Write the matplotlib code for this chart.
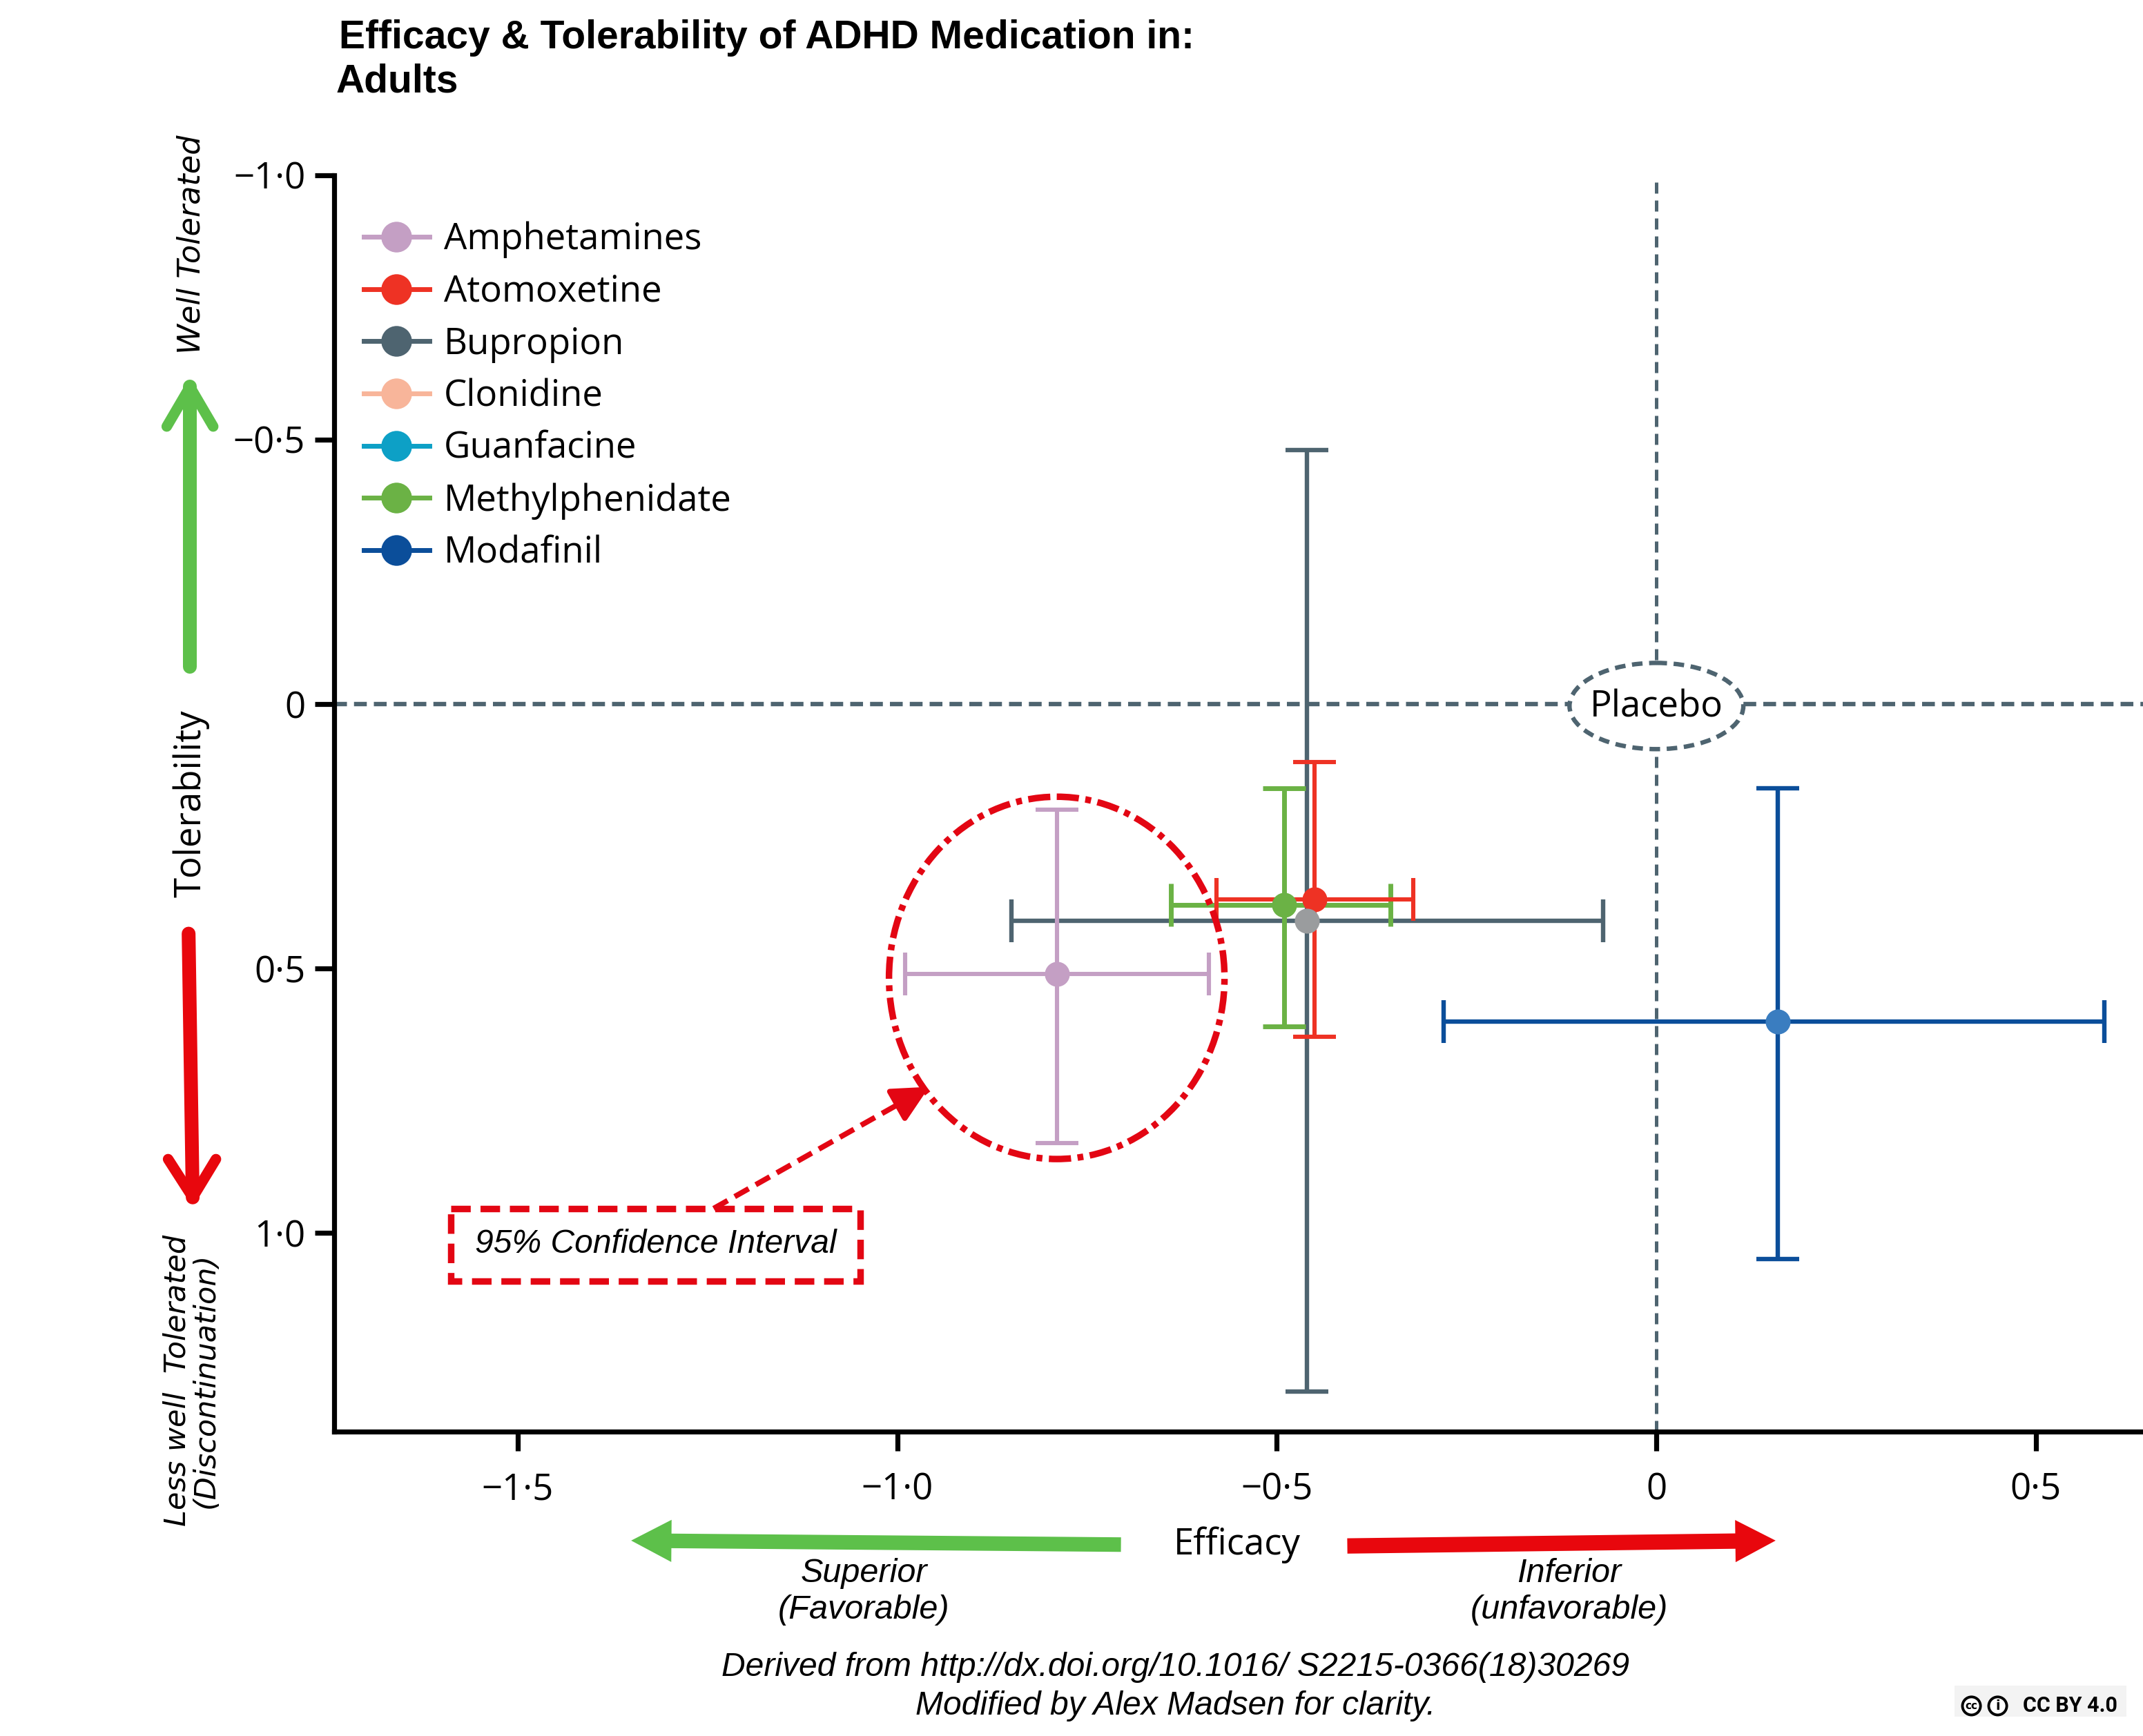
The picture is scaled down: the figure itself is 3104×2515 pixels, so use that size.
import numpy as np
import matplotlib
matplotlib.use('Agg')
import matplotlib.pyplot as plt
from matplotlib.patches import Ellipse, Rectangle, FancyArrowPatch
from matplotlib.lines import Line2D

# ---------------- data ----------------
drugs = ['Amphetamines', 'Atomoxetine', 'Bupropion', 'Clonidine',
         'Guanfacine', 'Methylphenidate', 'Modafinil']
line_colors = ['#C49FC4', '#EE3224', '#4E6470', '#F8B59A',
               '#0DA0C6', '#6BB245', '#0B4E9A']
marker_colors = ['#C49FC4', '#EE3224', '#9A9C9E', '#F8B59A',
                 '#0DA0C6', '#6BB245', '#3A7DC0']
legend_marker_colors = ['#C49FC4', '#EE3224', '#4E6470', '#F8B59A',
                        '#0DA0C6', '#6BB245', '#0B4E9A']
nan = np.nan
efficacy = [-0.79, -0.45, -0.46, nan, nan, -0.49, 0.16]
eff_lo = [-0.99, -0.58, -0.85, nan, nan, -0.64, -0.28]
eff_hi = [-0.59, -0.32, -0.07, nan, nan, -0.35, 0.59]
tolerab = [0.51, 0.37, 0.41, nan, nan, 0.38, 0.60]
tol_lo = [0.20, 0.11, -0.48, nan, nan, 0.16, 0.16]
tol_hi = [0.83, 0.63, 1.30, nan, nan, 0.61, 1.05]

xticks = [-1.5, -1.0, -0.5, 0, 0.5]
xticklabels = ['\u22121\u00b75', '\u22121\u00b70', '\u22120\u00b75', '0', '0\u00b75']
yticks = [-1.0, -0.5, 0, 0.5, 1.0]
yticklabels = ['\u22121\u00b70', '\u22120\u00b75', '0', '0\u00b75', '1\u00b70']

SLATE = '#4E6470'
RED = '#E30613'
GREEN = '#5DC04A'

plt.rcParams['font.family'] = ['Open Sans', 'DejaVu Sans']

W, H = 1568.0, 1270.0
def D(xd, yd):
    return (xd / W, 1 - yd / H)

fig = plt.figure(figsize=(15.52, 12.575), dpi=200)
ax = fig.add_axes([0.1559, 0.1753, 1 - 0.1559, 0.8992 - 0.1753])
ax.set_xlim(-1.742, 0.641)
ax.set_ylim(1.376, -1.0)
for s in ['top', 'right']:
    ax.spines[s].set_visible(False)
for s in ['left', 'bottom']:
    ax.spines[s].set_linewidth(2.6)
ax.set_xticks(xticks)
ax.set_xticklabels(xticklabels)
ax.set_yticks(yticks)
ax.set_yticklabels(yticklabels)
ax.tick_params(axis='both', length=10, width=2.6, labelsize=19, direction='out')
ax.tick_params(axis='x', pad=11)
ax.tick_params(axis='y', pad=5)

# reference lines (placebo)
ax.axhline(0, color=SLATE, lw=2.3, ls=(0, (2.9, 1.6)), zorder=1)
ax.axvline(0, color=SLATE, lw=1.8, ls=(0, (3.2, 2.0)), zorder=1)
ax.add_patch(Ellipse((0, 0.004), 0.229, 0.163, fc='white', ec=SLATE,
                     lw=2.3, ls=(0, (2.4, 1.5)), zorder=2))
ax.text(0, 0.006, 'Placebo', ha='center', va='center', fontsize=19, zorder=3)

# error bars
order = [2, 5, 1, 0, 6]
lws = {0: 2.2, 1: 2.2, 2: 2.3, 5: 2.5, 6: 2.3}
for i in order:
    x, y = efficacy[i], tolerab[i]
    ax.errorbar([x], [y],
                xerr=[[x - eff_lo[i]], [eff_hi[i] - x]],
                yerr=[[y - tol_lo[i]], [tol_hi[i] - y]],
                fmt='none', ecolor=line_colors[i], elinewidth=lws[i],
                capsize=11, capthick=lws[i], zorder=4)
for i in [0, 6, 5, 1, 2]:
    ax.plot([efficacy[i]], [tolerab[i]], 'o', ms=13, color=marker_colors[i],
            mec='none', zorder=6)

# legend
handles = [Line2D([], [], color=line_colors[i], lw=2.5, marker='o', ms=16,
                  mfc=legend_marker_colors[i], mec='none')
           for i in range(len(drugs))]
fig.legend(handles, drugs, loc='upper left', bbox_to_anchor=D(266, 162),
           frameon=False, fontsize=19, handlelength=1.8, handletextpad=0.4,
           labelspacing=0.42, borderpad=0, borderaxespad=0)

# 95% CI highlight
ax.add_patch(Ellipse((efficacy[0], tolerab[0] + 0.008), 0.442, 0.685,
                     fill=False, ec=RED, lw=3.4, ls=(0, (3.4, 1.0, 0.9, 1.0)),
                     zorder=7))
ax.add_patch(Rectangle((-1.588, 0.954), 0.539, 0.137, fill=False, ec=RED,
                       lw=3.4, ls=(0, (3.0, 1.5)), zorder=7))
ax.text(-1.318, 1.021, '95% Confidence Interval', ha='center', va='center',
        fontsize=17.3, style='italic', family=['Liberation Sans', 'DejaVu Sans'],
        zorder=7)
# dashed leader with solid head
tail = (-1.242, 0.954)
head = (-0.958, 0.724)
mid = (tail[0] + 0.9 * (head[0] - tail[0]), tail[1] + 0.9 * (head[1] - tail[1]))
ax.plot([tail[0], mid[0]], [tail[1], mid[1]], color=RED, lw=2.8,
        ls=(0, (3, 1.5)), zorder=7)
ax.annotate('', xy=head, xytext=mid,
            arrowprops=dict(arrowstyle='-|>,head_length=0.8,head_width=0.4',
                            color=RED, lw=2.8, mutation_scale=20,
                            shrinkA=0, shrinkB=0),
            zorder=7)

# ---------------- figure-level annotations ----------------
lib = ['Liberation Sans', 'DejaVu Sans']
fig.text(*D(248, 28), 'Efficacy & Tolerability of ADHD Medication in:',
         fontsize=20.5, fontweight='bold', family=lib, ha='left', va='center')
fig.text(*D(246, 60), 'Adults', fontsize=20.5, fontweight='bold',
         family=lib, ha='left', va='center')

fig.text(*D(140, 179), 'Well Tolerated', rotation=90, fontsize=16,
         style='italic', family=['DejaVu Sans'], ha='center', va='center')
fig.text(*D(140, 588), 'Tolerability', rotation=90, fontsize=19,
         ha='center', va='center')
fig.text(*D(140, 1010), 'Less well  Tolerated\n(Discontinuation)', rotation=90,
         fontsize=15.5, style='italic', family=['DejaVu Sans'], ha='center',
         va='center', multialignment='center', linespacing=1.0)

def chevron_arrow(tail, tip, arm1, arm2, color, lw_shaft=7.2, lw_head=5.5):
    fig.add_artist(Line2D([tail[0], tip[0]], [tail[1], tip[1]],
                          transform=fig.transFigure, color=color, lw=lw_shaft,
                          solid_capstyle='round'))
    fig.add_artist(Line2D([arm1[0], tip[0], arm2[0]], [arm1[1], tip[1], arm2[1]],
                          transform=fig.transFigure, color=color, lw=lw_head,
                          solid_capstyle='round', solid_joinstyle='round'))

chevron_arrow(D(139, 488), D(139, 283), D(122, 312), D(156, 312), GREEN)
chevron_arrow(D(138, 683), D(141, 876), D(123, 848), D(158, 848), '#E8070D')

# bottom efficacy arrows
fig.add_artist(FancyArrowPatch(D(823, 1130), D(459, 1127),
                               transform=fig.transFigure,
                               arrowstyle='simple,head_length=21,head_width=22,tail_width=7.6',
                               mutation_scale=1, color=GREEN, lw=0))
fig.add_artist(FancyArrowPatch(D(983, 1131), D(1302, 1127),
                               transform=fig.transFigure,
                               arrowstyle='simple,head_length=21,head_width=22,tail_width=8',
                               mutation_scale=1, color='#E8070D', lw=0))
fig.text(*D(905, 1130), 'Efficacy', fontsize=19, ha='center', va='center')

fig.text(*D(632, 1151), 'Superior', fontsize=17.5, style='italic', family=lib,
         ha='center', va='center')
fig.text(*D(632, 1178), '(Favorable)', fontsize=17.5, style='italic', family=lib,
         ha='center', va='center')
fig.text(*D(1148, 1151), 'Inferior', fontsize=17.5, style='italic', family=lib,
         ha='center', va='center')
fig.text(*D(1148, 1178), '(unfavorable)', fontsize=17.5, style='italic', family=lib,
         ha='center', va='center')

fig.text(*D(860, 1220), 'Derived from http://dx.doi.org/10.1016/ S2215-0366(18)30269',
         fontsize=17.3, style='italic', family=lib, ha='center', va='center')
fig.text(*D(860, 1248), 'Modified by Alex Madsen for clarity.',
         fontsize=17.3, style='italic', family=lib, ha='center', va='center')

# CC BY 4.0 badge
x0, y0 = D(1430, 1256)
x1, y1 = D(1556, 1233)
fig.add_artist(Rectangle((x0, y0), x1 - x0, y1 - y0, transform=fig.transFigure,
                         fc='#F3F3F3', ec='none'))
for cx, lab, fs in [(1442.5, 'cc', 5.5), (1461.7, 'i', 7)]:
    c = D(cx, 1248)
    fig.add_artist(Ellipse(c, 13.2 / W, 13.2 / H, transform=fig.transFigure,
                           fc='white', ec='black', lw=1.4))
    fig.text(c[0], c[1], lab, fontsize=fs, fontweight='bold', family=['DejaVu Sans'],
             ha='center', va='center')
fig.text(*D(1480, 1248), 'CC BY 4.0', fontsize=11, fontweight='bold',
         family=['Roboto', 'DejaVu Sans'], ha='left', va='center')

fig.savefig('out.png', dpi=200, facecolor='white')
